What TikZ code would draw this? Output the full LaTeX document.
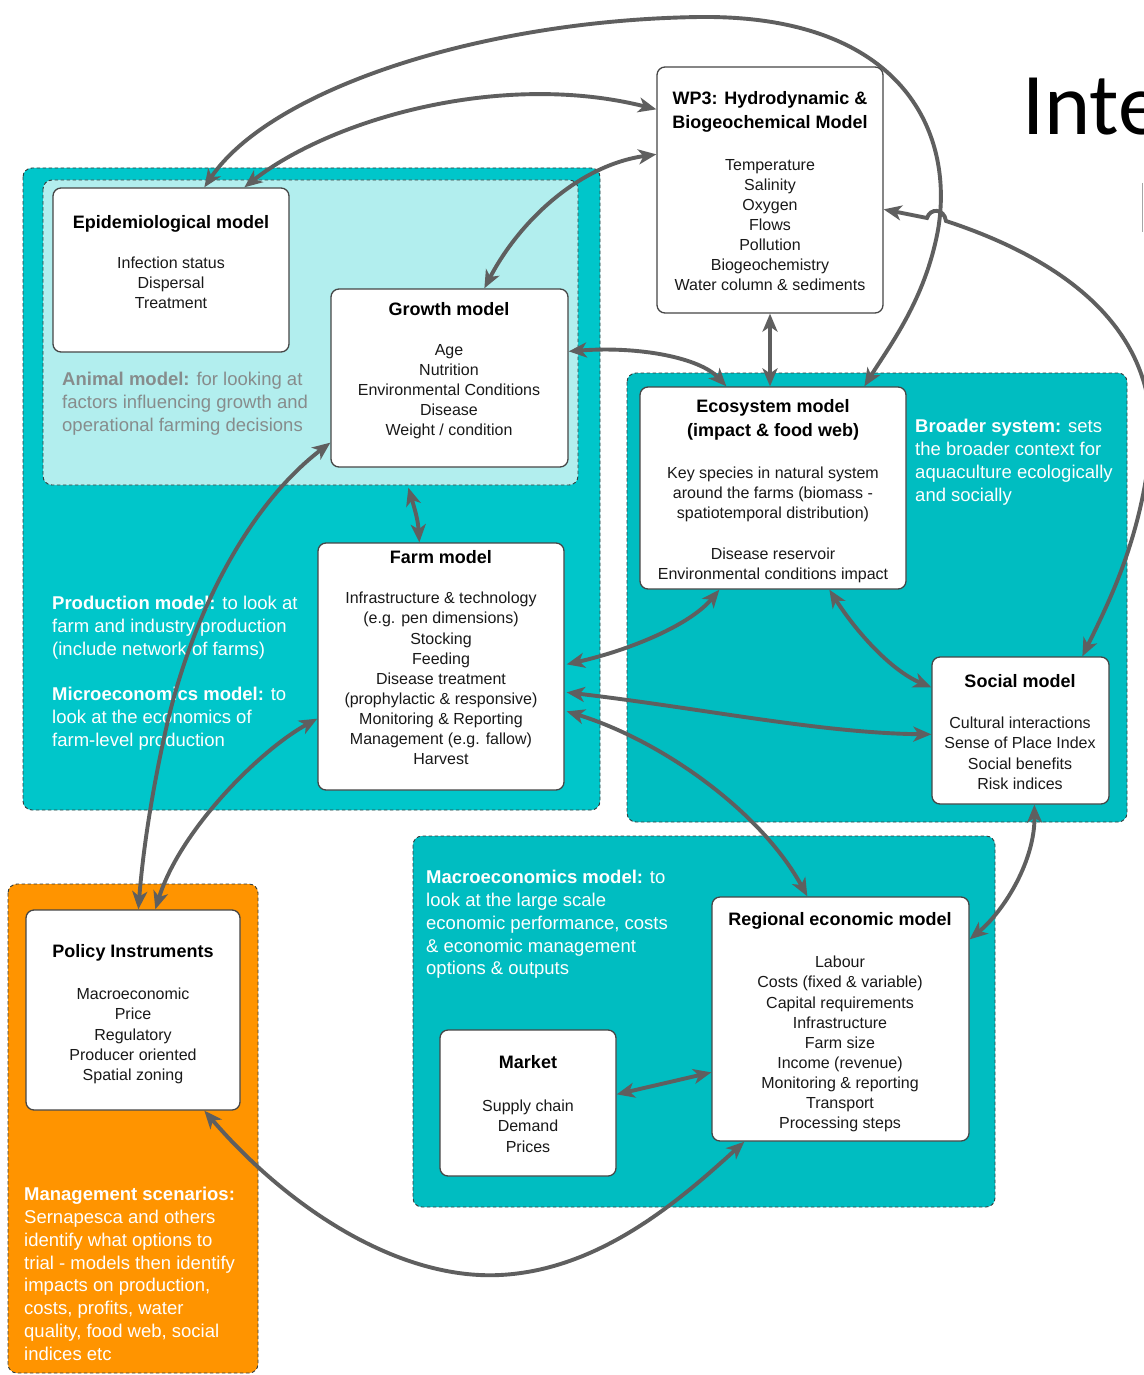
\documentclass[tikz,border=0pt]{standalone}
\usepackage{fontspec}
\setmainfont{Liberation Sans}
\newfontfamily\headfont{Carlito}
\usetikzlibrary{arrows.meta,calc}
\definecolor{tealA}{RGB}{0,198,202}
\definecolor{tealB}{RGB}{0,189,193}
\definecolor{lightcyan}{RGB}{178,238,238}
\definecolor{orangeM}{RGB}{255,148,0}
\definecolor{arrowgray}{RGB}{95,95,95}
\definecolor{boxline}{RGB}{70,70,70}
\definecolor{dashline}{RGB}{50,60,60}
\definecolor{animaltext}{RGB}{135,140,140}
\begin{document}
\begin{tikzpicture}[x=1pt,y=-1pt,
 container/.style={draw=dashline, line width=0.9pt, dash pattern=on 3.5pt off 2.5pt, rounded corners=9pt},
 mbox/.style={draw=boxline, fill=white, line width=1.3pt, rounded corners=8pt, inner sep=0pt},
 ttl/.style={font=\bfseries\fontsize{18}{24}\selectfont, align=center, anchor=north, inner sep=0pt, text=black},
 body/.style={font=\fontsize{16}{20.1}\selectfont, align=center, anchor=north, inner sep=0pt, text=black!90},
 desc/.style={font=\fontsize{18.5}{22.8}\selectfont, align=left, anchor=north west, inner sep=0pt, text=white},
 link/.style={draw=arrowgray, line width=3.9pt, {Stealth[length=18pt,width=15pt,inset=5pt]}-{Stealth[length=18pt,width=15pt,inset=5pt]}}
]
\fill[white] (0,0) rectangle (1143,1375);
\useasboundingbox (0,0) rectangle (1143,1375);

% containers
\path[container, fill=tealA] (23,168) rectangle (600,810);
\path[container, fill=lightcyan] (43,180) rectangle (578,485);
\path[container, fill=tealB] (627,373) rectangle (1127,822);
\path[container, fill=tealB] (413,836) rectangle (995,1207);
\path[container, fill=orangeM] (8,884) rectangle (258,1373);

% title fragment
\node[font=\headfont\fontsize{88}{100}\selectfont, anchor=base west, inner sep=0pt] (title) at (1022,135) {Inte};
\draw[gray!70, line width=1pt] (1142,183) -- (1142,232);

% descriptions
\node[desc, text=animaltext] (animaltxt) at (62,372) {\textbf{Animal model:} for looking at\\factors influencing growth and\\operational farming decisions};
\node[desc] (prodtxt) at (52,596) {\textbf{Production model:} to look at\\farm and industry production\\(include network of farms)\\[22.8pt]\textbf{Microeconomics model:} to\\look at the economics of\\farm-level production};
\node[desc] (broadtxt) at (915,419) {\textbf{Broader system:} sets\\the broader context for\\aquaculture ecologically\\and socially};
\node[desc] (macrotxt) at (426,870) {\textbf{Macroeconomics model:} to\\look at the large scale\\economic performance, costs\\\& economic management\\options \& outputs};
\node[desc] (mgmttxt) at (24,1187) {\textbf{Management scenarios:}\\Sernapesca and others\\identify what options to\\trial - models then identify\\impacts on production,\\costs, profits, water\\quality, food web, social\\indices etc};

% boxes
\node[mbox, minimum width=226, minimum height=246] (wp3) at (770,190) {};
\node[mbox, minimum width=236, minimum height=164] (epi) at (171,270) {};
\node[mbox, minimum width=237, minimum height=178] (growth) at (449.5,378) {};
\node[mbox, minimum width=266, minimum height=202] (eco) at (773,488) {};
\node[mbox, minimum width=246, minimum height=247] (farm) at (441,666.5) {};
\node[mbox, minimum width=177, minimum height=147] (social) at (1020.5,730.5) {};
\node[mbox, minimum width=257, minimum height=244] (regional) at (840.5,1019) {};
\node[mbox, minimum width=176, minimum height=146] (market) at (528,1103) {};
\node[mbox, minimum width=214, minimum height=200] (policy) at (133,1010) {};

% box texts
\node[ttl] (wp3t) at (770,91) {WP3: Hydrodynamic \&\\Biogeochemical Model};
\node[body] (wp3b) at (770,159) {Temperature\\Salinity\\Oxygen\\Flows\\Pollution\\Biogeochemistry\\Water column \& sediments};
\node[ttl] (epit) at (171,215.5) {Epidemiological model};
\node[body] (epib) at (171,257) {Infection status\\Dispersal\\Treatment};
\node[ttl] (growtht) at (449,302.5) {Growth model};
\node[body] (growthb) at (449,344) {Age\\Nutrition\\Environmental Conditions\\Disease\\Weight / condition};
\node[ttl] (ecot) at (773,399.5) {Ecosystem model\\(impact \& food web)};
\node[body] (ecob) at (773,467) {Key species in natural system\\around the farms (biomass -\\spatiotemporal distribution)\\[20.1pt]Disease reservoir\\Environmental conditions impact};
\node[ttl] (farmt) at (441,550.5) {Farm model};
\node[body] (farmb) at (441,592) {Infrastructure \& technology\\(e.g. pen dimensions)\\Stocking\\Feeding\\Disease treatment\\(prophylactic \& responsive)\\Monitoring \& Reporting\\Management (e.g. fallow)\\Harvest};
\node[ttl] (socialt) at (1020,674.5) {Social model};
\node[body] (socialb) at (1020,717) {Cultural interactions\\Sense of Place Index\\Social benefits\\Risk indices};
\node[ttl] (regionalt) at (840,912.5) {Regional economic model};
\node[body] (regionalb) at (840,956) {Labour\\Costs (fixed \& variable)\\Capital requirements\\Infrastructure\\Farm size\\Income (revenue)\\Monitoring \& reporting\\Transport\\Processing steps};
\node[ttl] (markett) at (528,1055.5) {Market};
\node[body] (marketb) at (528,1100) {Supply chain\\Demand\\Prices};
\node[ttl] (policyt) at (133,944.5) {Policy Instruments};
\node[body] (policyb) at (133,988) {Macroeconomic\\Price\\Regulatory\\Producer oriented\\Spatial zoning};

% connectors
\draw[link] ($(epi.north west)+(152,0)$) .. controls (270,90) and (480,20) .. (700,17) .. controls (900,15) and (955,130) .. (938,230) .. controls (925,300) and (890,345) .. ($(eco.north west)+(225,0)$);
\draw[link] ($(epi.north west)+(192,0)$) .. controls (330,120) and (500,70) .. ($(wp3.north west)+(0,43)$);
\draw[link] ($(growth.north west)+(154,0)$) .. controls (520,220) and (580,165) .. ($(wp3.north west)+(0,88)$);
\draw[link] (wp3.south) -- (wp3.south |- eco.north);
\draw[link] ($(growth.north east)+(0,63)$) .. controls (640,346) and (700,358) .. ($(eco.north west)+(87,0)$);
\draw[link] ($(wp3.north east)+(0,143)$) -- (927,218) .. controls (930,208) and (944,208) .. (946,221) .. controls (1080,265) and (1160,340) .. (1150,450) .. controls (1140,540) and (1110,600) .. ($(social.north west)+(151,0)$);
\draw[link] ($(growth.south west)+(78,20)$) .. controls (415,510) and (418,520) .. ($(farm.north west)+(102,0)$);
\draw[link] ($(growth.south west)+(0,-25)$) .. controls (255,500) and (197,600) .. (168,720) .. controls (152,790) and (143,850) .. ($(policy.north west)+(113,0)$);
\draw[link] ($(farm.south west)+(0,-72)$) .. controls (260,750) and (180,830) .. ($(policy.north west)+(130,0)$);
\draw[link] ($(eco.south west)+(80,0)$) .. controls (690,625) and (630,650) .. ($(farm.north east)+(2,122)$);
\draw[link] ($(eco.south west)+(190,0)$) .. controls (855,630) and (890,670) .. ($(social.north west)+(0,31)$);
\draw[link] ($(farm.north east)+(2,150)$) .. controls (700,708) and (820,733) .. ($(social.north west)+(0,78)$);
\draw[link] ($(farm.north east)+(2,169)$) .. controls (660,740) and (760,810) .. ($(regional.north west)+(96,0)$);
\draw[link] ($(social.south west)+(103,0)$) .. controls (1035,860) and (1005,910) .. ($(regional.north east)+(0,43)$);
\draw[link] ($(market.north east)+(0,65)$) -- ($(regional.north west)+(0,176)$);
\draw[link] ($(policy.south west)+(179,0)$) .. controls (290,1210) and (400,1280) .. (500,1275) .. controls (600,1270) and (680,1200) .. ($(regional.south west)+(33,0)$);
\end{tikzpicture}
\end{document}
